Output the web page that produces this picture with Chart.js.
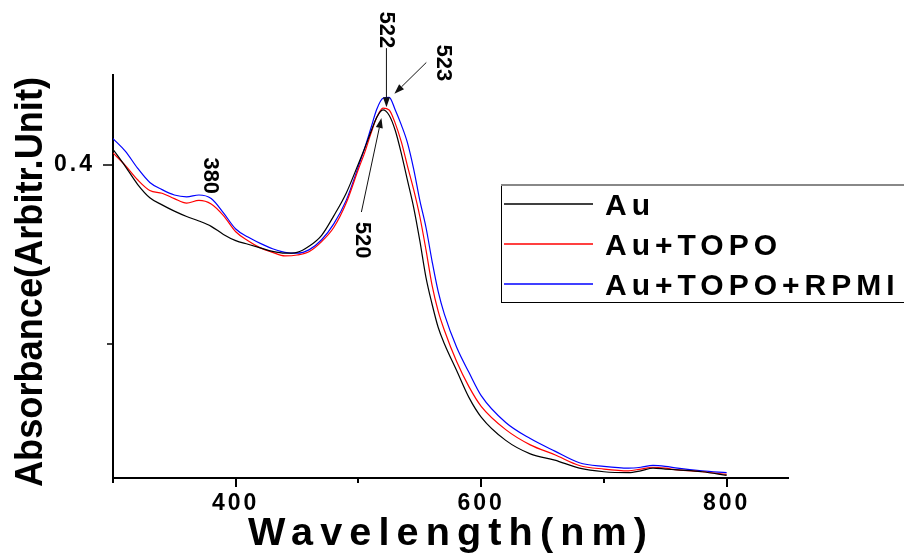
<!DOCTYPE html>
<html>
<head>
<meta charset="utf-8">
<title>UV-Vis Au</title>
<script src="https://cdn.jsdelivr.net/npm/chart.js@4.4.1/dist/chart.umd.min.js"></script>
<style>
    html, body { margin: 0; padding: 0; background: #fff; }
    #wrap { position: relative; width: 904px; height: 555px; }
</style>
</head>
<body>
<div id="wrap"><canvas id="uvChart"></canvas></div>
<script>
// длины волн (nm), общие для трёх спектров
const wavelengths = [300, 310, 320, 330, 340, 350, 360, 370, 380, 390, 400, 410, 420, 430, 440, 450, 460, 470, 480, 490,
    500, 505, 510, 515, 520, 525, 530, 535, 540, 545, 550, 555, 560, 565, 570, 580, 590, 600, 620, 640,
    660, 680, 700, 720, 730, 740, 750, 760, 780, 800];

const absAu = [0.417, 0.398, 0.378, 0.363, 0.355, 0.348, 0.342, 0.337, 0.331, 0.322, 0.315, 0.311, 0.307, 0.303, 0.301, 0.302, 0.309, 0.321, 0.343, 0.368,
    0.401, 0.418, 0.436, 0.453, 0.461, 0.455, 0.438, 0.412, 0.382, 0.352, 0.315, 0.274, 0.244, 0.218, 0.200, 0.170, 0.140, 0.118, 0.092, 0.077,
    0.070, 0.061, 0.057, 0.056, 0.058, 0.061, 0.060, 0.059, 0.057, 0.053];

const absAuTopo = [0.413, 0.399, 0.383, 0.371, 0.368, 0.362, 0.357, 0.360, 0.356, 0.343, 0.325, 0.315, 0.307, 0.302, 0.298, 0.299, 0.303, 0.314, 0.330, 0.357,
    0.395, 0.413, 0.434, 0.453, 0.463, 0.461, 0.446, 0.425, 0.398, 0.372, 0.342, 0.305, 0.265, 0.236, 0.215, 0.180, 0.152, 0.130, 0.104, 0.087,
    0.076, 0.064, 0.060, 0.058, 0.060, 0.062, 0.061, 0.059, 0.057, 0.054];

const absAuTopoRpmi = [0.429, 0.415, 0.396, 0.380, 0.372, 0.366, 0.364, 0.366, 0.362, 0.346, 0.328, 0.319, 0.312, 0.306, 0.302, 0.301, 0.305, 0.316, 0.334, 0.360,
    0.398, 0.418, 0.440, 0.462, 0.474, 0.475, 0.461, 0.444, 0.424, 0.395, 0.360, 0.330, 0.292, 0.258, 0.233, 0.196, 0.168, 0.142, 0.112, 0.094,
    0.080, 0.067, 0.063, 0.061, 0.062, 0.064, 0.063, 0.061, 0.058, 0.056];

const seriesLabels = ['Au', 'Au+TOPO', 'Au+TOPO+RPMI'];
const seriesColors = ['#000000', '#ff0000', '#0000ff'];

// деления осей
const xMajorTicks = [400, 600, 800];
const xMinorTicks = [300, 500, 700];
const yMajorTicks = [0.4];
const yMinorTicks = [0.2];

// подписи пиков: текст, точка начала текста [nm, abs], стрелка от -> до
const peakNotes = [
    { text: '522', at: [517.3, 0.571], from: [522.8, 0.530], to: [522.8, 0.464] },
    { text: '523', at: [564.2, 0.534], from: [555.3, 0.514], to: [529.3, 0.479] },
    { text: '520', at: [497.6, 0.336], from: [502.4, 0.347], to: [518.7, 0.452] },
    { text: '380', at: [374.0, 0.408], from: null, to: null }
];

const FONT = '"Liberation Sans", Arial, sans-serif';

function drawText(ctx, text, x, y, opts) {
    const sp = opts.spacing || 0;
    ctx.save();
    ctx.font = opts.font;
    ctx.letterSpacing = sp + 'px';
    ctx.translate(x, y);
    if (opts.angle) ctx.rotate(opts.angle);
    const w = ctx.measureText(text).width - sp;
    if (opts.width) ctx.scale(opts.width / w, 1);
    ctx.textAlign = 'left';
    ctx.textBaseline = 'alphabetic';
    ctx.fillStyle = '#000';
    ctx.fillText(text, 0, 0);
    ctx.restore();
}

function arrow(ctx, x1, y1, x2, y2) {
    const a = Math.atan2(y2 - y1, x2 - x1);
    const len = 10, half = 3.5;
    ctx.beginPath();
    ctx.moveTo(x1, y1);
    ctx.lineTo(x2 - Math.cos(a) * len, y2 - Math.sin(a) * len);
    ctx.stroke();
    ctx.beginPath();
    ctx.moveTo(x2, y2);
    ctx.lineTo(x2 - Math.cos(a) * len - Math.sin(a) * half, y2 - Math.sin(a) * len + Math.cos(a) * half);
    ctx.lineTo(x2 - Math.cos(a) * len + Math.sin(a) * half, y2 - Math.sin(a) * len - Math.cos(a) * half);
    ctx.closePath();
    ctx.fill();
}

// тики, подписи осей, легенда и стрелки
const decorPlugin = {
    id: 'decor',
    beforeDraw(chart) {
        chart.ctx.letterSpacing = '3px';
    },
    afterDraw(chart) {
        const ctx = chart.ctx;
        const xs = chart.scales.x, ys = chart.scales.y;
        const area = chart.chartArea;
        ctx.save();
        ctx.letterSpacing = '0px';
        ctx.strokeStyle = '#000';
        ctx.fillStyle = '#000';
        ctx.lineWidth = 2;

        // деления оси X (наружу, вниз)
        xMajorTicks.forEach(v => {
            const px = Math.round(xs.getPixelForValue(v));
            ctx.beginPath(); ctx.moveTo(px, area.bottom); ctx.lineTo(px, area.bottom + 9); ctx.stroke();
        });
        xMinorTicks.forEach(v => {
            const px = Math.round(xs.getPixelForValue(v));
            ctx.beginPath(); ctx.moveTo(px, area.bottom); ctx.lineTo(px, area.bottom + 5); ctx.stroke();
        });
        // деления оси Y (наружу, влево)
        ctx.lineWidth = 1.5;
        yMajorTicks.forEach(v => {
            const py = Math.round(ys.getPixelForValue(v));
            ctx.beginPath(); ctx.moveTo(area.left, py); ctx.lineTo(area.left - 10, py); ctx.stroke();
        });
        yMinorTicks.forEach(v => {
            const py = Math.round(ys.getPixelForValue(v));
            ctx.beginPath(); ctx.moveTo(area.left, py); ctx.lineTo(area.left - 6, py); ctx.stroke();
        });

        // подписи осей
        drawText(ctx, 'Wavelength(nm)', 248, 545, { font: 'bold 39px ' + FONT, spacing: 7, width: 399 });
        drawText(ctx, 'Absorbance(Arbitr.Unit)', 42, 487, { font: 'bold 38px ' + FONT, angle: -Math.PI / 2, width: 410 });

        // легенда
        const lx = 501, ly = 185, lw = 420, lh = 117;
        ctx.lineWidth = 1;
        ctx.strokeStyle = '#000';
        ctx.strokeRect(lx + 0.5, ly + 0.5, lw, lh);
        ctx.strokeStyle = '#888';
        ctx.lineWidth = 2;
        ctx.beginPath(); ctx.moveTo(lx, ly); ctx.lineTo(lx + lw, ly); ctx.stroke();
        chart.data.datasets.forEach((ds, i) => {
            const yy = 204 + i * 40;
            ctx.strokeStyle = ds.borderColor;
            ctx.lineWidth = 1.5;
            ctx.beginPath(); ctx.moveTo(504, yy); ctx.lineTo(593, yy); ctx.stroke();
            drawText(ctx, ds.label, 605, yy + 11, { font: 'bold 30px ' + FONT, spacing: 5 });
        });

        // подписи пиков со стрелками
        ctx.strokeStyle = '#111';
        ctx.fillStyle = '#111';
        ctx.lineWidth = 1;
        peakNotes.forEach(n => {
            drawText(ctx, n.text, xs.getPixelForValue(n.at[0]), ys.getPixelForValue(n.at[1]),
                { font: 'bold 22px ' + FONT, angle: Math.PI / 2 });
            if (n.from) {
                ctx.strokeStyle = '#111';
                ctx.fillStyle = '#111';
                arrow(ctx, xs.getPixelForValue(n.from[0]), ys.getPixelForValue(n.from[1]),
                    xs.getPixelForValue(n.to[0]), ys.getPixelForValue(n.to[1]));
            }
        });
        ctx.restore();
    }
};

const seriesValues = [absAu, absAuTopo, absAuTopoRpmi];

const ctx = document.getElementById('uvChart').getContext('2d');
new Chart(ctx, {
    type: 'line',
    data: {
        datasets: seriesValues.map((vals, i) => ({
            label: seriesLabels[i],
            data: wavelengths.map((w, j) => ({ x: w, y: vals[j] })),
            borderColor: seriesColors[i],
            borderWidth: 1.2,
            pointRadius: 0,
            cubicInterpolationMode: 'monotone',
            fill: false
        }))
    },
    options: {
        responsive: true,
        maintainAspectRatio: false,
        animation: false,
        layout: { padding: { top: 75, right: 116, left: 0, bottom: 0 } },
        plugins: {
            legend: { display: false },
            tooltip: { enabled: false }
        },
        scales: {
            x: {
                type: 'linear',
                min: 300,
                max: 850,
                afterBuildTicks: s => { s.ticks = xMajorTicks.map(v => ({ value: v })); },
                afterFit: s => { s.height = 77; },
                grid: { display: false, drawTicks: false },
                border: { display: true, color: '#000', width: 2 },
                ticks: {
                    padding: 12,
                    color: '#000',
                    maxRotation: 0,
                    font: { family: FONT, size: 23, weight: 'bold' }
                }
            },
            y: {
                type: 'linear',
                min: 0.05,
                max: 0.5,
                afterBuildTicks: s => { s.ticks = yMajorTicks.map(v => ({ value: v })); },
                afterFit: s => { s.width = 113; },
                grid: { display: false, drawTicks: false },
                border: { display: true, color: '#000', width: 2 },
                ticks: {
                    padding: 18,
                    color: '#000',
                    font: { family: FONT, size: 23, weight: 'bold' },
                    callback: v => v.toFixed(1)
                }
            }
        }
    },
    plugins: [decorPlugin]
});
</script>
</body>
</html>
